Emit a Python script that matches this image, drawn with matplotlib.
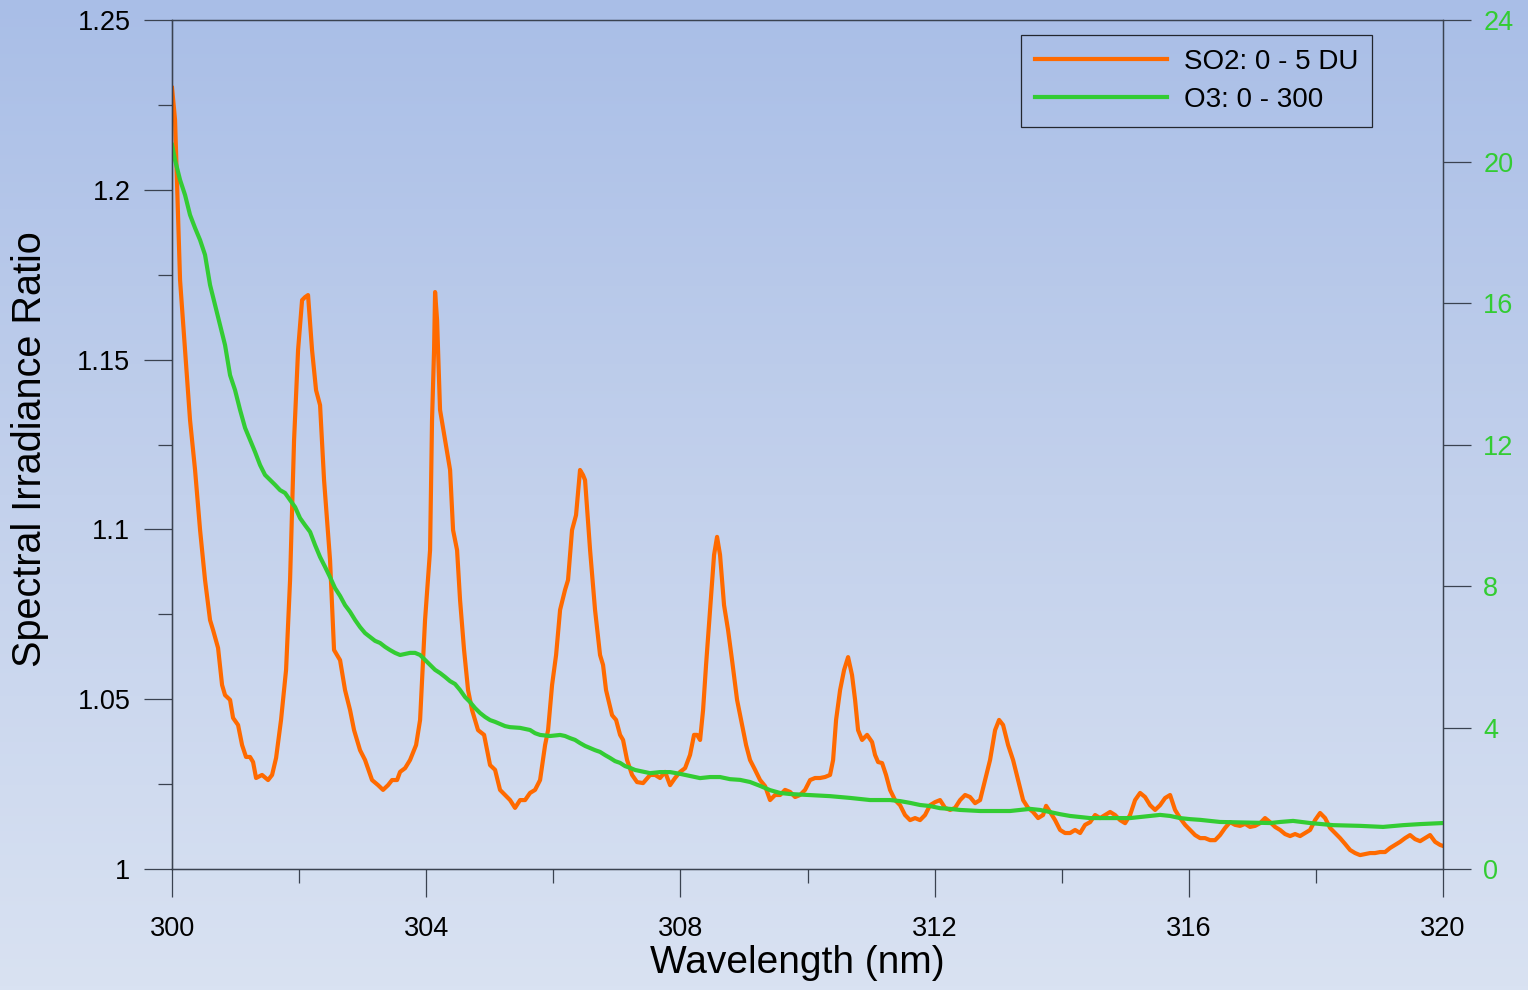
import numpy as np
import matplotlib
matplotlib.use('Agg')
import matplotlib.pyplot as plt
from matplotlib.ticker import FixedLocator, MultipleLocator
from matplotlib.colors import LinearSegmentedColormap

plt.rcParams['font.family'] = ['Liberation Sans', 'DejaVu Sans']

# SO2 spectral irradiance ratio (left axis)
so2_wl = [
    300.000, 300.047, 300.126, 300.205, 300.283, 300.362, 300.441, 300.519, 300.598, 300.645,
    300.724, 300.787, 300.834, 300.913, 300.960, 301.039, 301.102, 301.164, 301.227, 301.275,
    301.322, 301.416, 301.511, 301.574, 301.637, 301.715, 301.794, 301.857, 301.920, 301.983,
    302.046, 302.093, 302.140, 302.203, 302.266, 302.329, 302.392, 302.486, 302.549, 302.644,
    302.722, 302.801, 302.864, 302.958, 303.037, 303.147, 303.242, 303.320, 303.399, 303.462,
    303.541, 303.588, 303.667, 303.745, 303.840, 303.903, 303.981, 304.060, 304.091, 304.123,
    304.139, 304.170, 304.217, 304.296, 304.375, 304.422, 304.485, 304.532, 304.595, 304.658,
    304.721, 304.815, 304.910, 305.004, 305.083, 305.161, 305.240, 305.319, 305.397, 305.476,
    305.555, 305.633, 305.712, 305.791, 305.870, 305.917, 305.980, 306.043, 306.106, 306.184,
    306.231, 306.294, 306.357, 306.420, 306.467, 306.499, 306.578, 306.656, 306.735, 306.782,
    306.829, 306.924, 306.987, 307.050, 307.097, 307.160, 307.239, 307.317, 307.412, 307.522,
    307.601, 307.679, 307.758, 307.837, 307.915, 307.994, 308.073, 308.151, 308.214, 308.261,
    308.309, 308.356, 308.403, 308.466, 308.529, 308.576, 308.623, 308.686, 308.749, 308.812,
    308.891, 308.970, 309.033, 309.095, 309.174, 309.253, 309.332, 309.410, 309.489, 309.568,
    309.646, 309.725, 309.804, 309.882, 309.961, 310.040, 310.118, 310.197, 310.276, 310.354,
    310.402, 310.449, 310.512, 310.575, 310.638, 310.700, 310.748, 310.795, 310.858, 310.937,
    311.015, 311.062, 311.110, 311.173, 311.235, 311.298, 311.377, 311.456, 311.534, 311.613,
    311.692, 311.770, 311.849, 311.928, 312.007, 312.085, 312.164, 312.243, 312.321, 312.400,
    312.479, 312.557, 312.636, 312.715, 312.793, 312.872, 312.951, 313.014, 313.077, 313.156,
    313.234, 313.313, 313.392, 313.470, 313.549, 313.628, 313.706, 313.754, 313.816, 313.895,
    313.974, 314.052, 314.131, 314.210, 314.289, 314.367, 314.446, 314.525, 314.603, 314.682,
    314.761, 314.839, 314.918, 314.997, 315.075, 315.154, 315.233, 315.311, 315.390, 315.469,
    315.547, 315.626, 315.705, 315.783, 315.862, 315.941, 316.019, 316.098, 316.177, 316.255,
    316.334, 316.413, 316.491, 316.570, 316.649, 316.727, 316.806, 316.885, 316.963, 317.042,
    317.121, 317.199, 317.278, 317.357, 317.436, 317.514, 317.593, 317.672, 317.750, 317.829,
    317.908, 317.986, 318.065, 318.144, 318.222, 318.301, 318.380, 318.458, 318.537, 318.616,
    318.694, 318.773, 318.852, 318.930, 319.009, 319.088, 319.167, 319.245, 319.324, 319.403,
    319.481, 319.560, 319.639, 319.717, 319.796, 319.875, 319.953, 320.000,
]
so2_ratio = [
    1.2300, 1.2206, 1.1734, 1.1528, 1.1322, 1.1175, 1.0998, 1.0851, 1.0733, 1.0704,
    1.0651, 1.0542, 1.0512, 1.0498, 1.0445, 1.0424, 1.0365, 1.0330, 1.0330, 1.0315,
    1.0268, 1.0277, 1.0262, 1.0277, 1.0327, 1.0439, 1.0586, 1.0851, 1.1263, 1.1528,
    1.1675, 1.1684, 1.1690, 1.1528, 1.1410, 1.1366, 1.1145, 1.0910, 1.0645, 1.0615,
    1.0527, 1.0468, 1.0409, 1.0350, 1.0321, 1.0262, 1.0247, 1.0233, 1.0247, 1.0262,
    1.0262, 1.0286, 1.0297, 1.0321, 1.0365, 1.0439, 1.0733, 1.0939, 1.1322, 1.1528,
    1.1699, 1.1617, 1.1352, 1.1263, 1.1175, 1.0998, 1.0939, 1.0792, 1.0645, 1.0527,
    1.0468, 1.0409, 1.0395, 1.0306, 1.0292, 1.0233, 1.0218, 1.0203, 1.0180, 1.0203,
    1.0203, 1.0224, 1.0233, 1.0262, 1.0365, 1.0409, 1.0542, 1.0630, 1.0763, 1.0822,
    1.0851, 1.0998, 1.1042, 1.1175, 1.1160, 1.1145, 1.0939, 1.0763, 1.0630, 1.0601,
    1.0527, 1.0453, 1.0439, 1.0395, 1.0380, 1.0321, 1.0277, 1.0256, 1.0253, 1.0277,
    1.0277, 1.0268, 1.0286, 1.0247, 1.0268, 1.0286, 1.0297, 1.0336, 1.0395, 1.0395,
    1.0380, 1.0468, 1.0601, 1.0763, 1.0925, 1.0978, 1.0925, 1.0777, 1.0704, 1.0615,
    1.0498, 1.0424, 1.0365, 1.0321, 1.0292, 1.0262, 1.0244, 1.0203, 1.0218, 1.0218,
    1.0233, 1.0227, 1.0212, 1.0218, 1.0233, 1.0262, 1.0268, 1.0268, 1.0271, 1.0277,
    1.0321, 1.0439, 1.0527, 1.0586, 1.0624, 1.0571, 1.0498, 1.0409, 1.0380, 1.0395,
    1.0374, 1.0336, 1.0315, 1.0312, 1.0277, 1.0233, 1.0203, 1.0188, 1.0159, 1.0144,
    1.0150, 1.0144, 1.0159, 1.0188, 1.0197, 1.0203, 1.0180, 1.0174, 1.0180, 1.0203,
    1.0218, 1.0212, 1.0194, 1.0203, 1.0262, 1.0321, 1.0409, 1.0439, 1.0424, 1.0365,
    1.0321, 1.0262, 1.0203, 1.0180, 1.0168, 1.0150, 1.0159, 1.0186, 1.0168, 1.0144,
    1.0115, 1.0106, 1.0106, 1.0115, 1.0106, 1.0130, 1.0138, 1.0159, 1.0150, 1.0159,
    1.0168, 1.0159, 1.0144, 1.0135, 1.0159, 1.0203, 1.0224, 1.0212, 1.0188, 1.0174,
    1.0188, 1.0209, 1.0218, 1.0174, 1.0150, 1.0130, 1.0115, 1.0100, 1.0091, 1.0091,
    1.0085, 1.0085, 1.0100, 1.0121, 1.0138, 1.0130, 1.0127, 1.0133, 1.0124, 1.0127,
    1.0135, 1.0150, 1.0138, 1.0124, 1.0115, 1.0103, 1.0097, 1.0103, 1.0097, 1.0106,
    1.0115, 1.0144, 1.0165, 1.0150, 1.0121, 1.0106, 1.0091, 1.0074, 1.0056, 1.0047,
    1.0041, 1.0044, 1.0047, 1.0047, 1.0050, 1.0050, 1.0062, 1.0071, 1.0080, 1.0091,
    1.0100, 1.0088, 1.0082, 1.0091, 1.0100, 1.0080, 1.0071, 1.0068,
]

# O3 ratio (right axis)
o3_wl = [
    300.000, 300.047, 300.126, 300.205, 300.283, 300.362, 300.441, 300.519, 300.598, 300.677,
    300.755, 300.834, 300.913, 300.991, 301.070, 301.149, 301.227, 301.306, 301.385, 301.463,
    301.542, 301.621, 301.700, 301.778, 301.857, 301.936, 302.014, 302.093, 302.172, 302.250,
    302.329, 302.408, 302.486, 302.565, 302.644, 302.722, 302.801, 302.880, 302.958, 303.037,
    303.116, 303.194, 303.273, 303.352, 303.430, 303.509, 303.588, 303.667, 303.745, 303.824,
    303.903, 303.981, 304.060, 304.139, 304.217, 304.296, 304.375, 304.453, 304.532, 304.611,
    304.689, 304.768, 304.847, 304.925, 305.004, 305.083, 305.161, 305.240, 305.319, 305.476,
    305.633, 305.712, 305.791, 305.948, 306.106, 306.184, 306.263, 306.341, 306.420, 306.499,
    306.578, 306.656, 306.735, 306.814, 306.892, 306.971, 307.050, 307.128, 307.207, 307.286,
    307.364, 307.522, 307.679, 307.837, 307.994, 308.151, 308.309, 308.466, 308.623, 308.780,
    308.938, 309.095, 309.253, 309.410, 309.568, 309.725, 310.040, 310.354, 310.669, 310.984,
    311.298, 311.456, 311.613, 311.770, 311.928, 312.085, 312.243, 312.400, 312.715, 313.187,
    313.345, 313.502, 313.659, 313.816, 313.974, 314.131, 314.289, 314.446, 315.075, 315.233,
    315.390, 315.547, 315.705, 315.862, 316.019, 316.177, 316.334, 316.491, 317.278, 317.436,
    317.640, 317.908, 318.270, 318.694, 319.056, 319.371, 319.639, 320.000,
]
o3_ratio = [
    20.47, 20.04, 19.48, 19.05, 18.49, 18.12, 17.78, 17.36, 16.51, 15.94,
    15.38, 14.81, 13.96, 13.54, 12.98, 12.47, 12.13, 11.79, 11.42, 11.14,
    11.00, 10.86, 10.71, 10.63, 10.43, 10.23, 9.92, 9.72, 9.53, 9.16,
    8.82, 8.54, 8.25, 7.94, 7.72, 7.46, 7.27, 7.04, 6.84, 6.67,
    6.56, 6.45, 6.39, 6.28, 6.19, 6.11, 6.05, 6.08, 6.11, 6.11,
    6.05, 5.91, 5.77, 5.63, 5.54, 5.43, 5.31, 5.23, 5.06, 4.86,
    4.72, 4.55, 4.41, 4.30, 4.21, 4.16, 4.10, 4.04, 4.01, 3.99,
    3.93, 3.84, 3.79, 3.76, 3.79, 3.76, 3.70, 3.65, 3.56, 3.48,
    3.42, 3.36, 3.31, 3.22, 3.14, 3.05, 3.00, 2.91, 2.86, 2.80,
    2.77, 2.71, 2.74, 2.74, 2.69, 2.63, 2.57, 2.60, 2.60, 2.54,
    2.52, 2.46, 2.35, 2.23, 2.15, 2.12, 2.09, 2.06, 2.01, 1.95,
    1.95, 1.92, 1.87, 1.81, 1.78, 1.72, 1.70, 1.67, 1.64, 1.64,
    1.67, 1.70, 1.67, 1.61, 1.55, 1.50, 1.47, 1.44, 1.44, 1.47,
    1.50, 1.53, 1.50, 1.44, 1.41, 1.39, 1.36, 1.33, 1.30, 1.33,
    1.36, 1.30, 1.24, 1.22, 1.19, 1.24, 1.27, 1.30,
]

legend_labels = ['SO2: 0 - 5 DU', 'O3: 0 - 300']
x_ticks = [300, 304, 308, 312, 316, 320]
left_ticks = [1.0, 1.05, 1.1, 1.15, 1.2, 1.25]
left_tick_labels = ['1', '1.05', '1.1', '1.15', '1.2', '1.25']
right_ticks = [0, 4, 8, 12, 16, 20, 24]

ORANGE = '#ff6a00'
GREEN = '#33cc33'
AXCOL = '#3a4250'

fig = plt.figure(figsize=(15.28, 9.9), dpi=100)

# gradient background over the whole figure
bg = fig.add_axes([0, 0, 1, 1], zorder=-10)
grad = np.linspace(0, 1, 256).reshape(-1, 1)
bg_cmap = LinearSegmentedColormap.from_list('bg', ['#a9bee7', '#c3d1ec', '#d9e2f2'])
bg.imshow(grad, aspect='auto', cmap=bg_cmap, extent=[0, 1, 0, 1])
bg.axis('off')

ax = fig.add_axes([0.1126, 0.1222, 0.8318, 0.8576])
ax.set_facecolor('none')
ax2 = ax.twinx()
ax2.set_facecolor('none')

l1, = ax.plot(so2_wl, so2_ratio, color=ORANGE, lw=3.0, solid_joinstyle='round')
l2, = ax2.plot(o3_wl, o3_ratio, color=GREEN, lw=3.0, solid_joinstyle='round')

ax.set_xlim(300, 320)
ax.set_ylim(1.0, 1.25)
ax2.set_ylim(0, 24)

ax.xaxis.set_major_locator(FixedLocator(x_ticks))
ax.xaxis.set_minor_locator(MultipleLocator(2))
ax.set_xticklabels([str(t) for t in x_ticks])
ax.yaxis.set_major_locator(FixedLocator(left_ticks))
ax.yaxis.set_minor_locator(MultipleLocator(0.025))
ax.set_yticklabels(left_tick_labels)
ax2.yaxis.set_major_locator(FixedLocator(right_ticks))
ax2.set_yticklabels([str(t) for t in right_ticks])

ax.tick_params(axis='both', which='major', direction='out', length=20, width=0.9,
               color=AXCOL, labelsize=19.5, labelcolor='black')
ax.tick_params(axis='x', which='major', pad=14)
ax.tick_params(axis='y', which='major', pad=10)
ax.tick_params(axis='both', which='minor', direction='out', length=10, width=0.9, color=AXCOL)
ax2.tick_params(axis='y', which='major', direction='out', length=20, width=0.9,
                color=AXCOL, labelsize=19.5, pad=9, labelcolor=GREEN)

for a in (ax, ax2):
    for s in a.spines.values():
        s.set_color(AXCOL)
        s.set_linewidth(0.9)
ax.spines['left'].set_color('black')
ax.spines['bottom'].set_color('#1e2430')

ax.set_xlabel('Wavelength (nm)', fontsize=28)
ax.xaxis.set_label_coords(0.4917, -0.090)
ax.set_ylabel('Spectral Irradiance Ratio', fontsize=28.5)
ax.yaxis.set_label_coords(-0.097, 0.4947)

leg = ax.legend([l1, l2], legend_labels, loc='upper right', bbox_to_anchor=(0.944, 0.982),
                borderaxespad=0, fontsize=20, frameon=True, fancybox=False,
                handlelength=4.75, handletextpad=0.6, labelspacing=0.42, borderpad=0.5)
leg.get_frame().set_facecolor('none')
leg.get_frame().set_edgecolor('black')
leg.get_frame().set_linewidth(0.9)
leg.set_zorder(5)

fig.savefig('out.png', dpi=100)
